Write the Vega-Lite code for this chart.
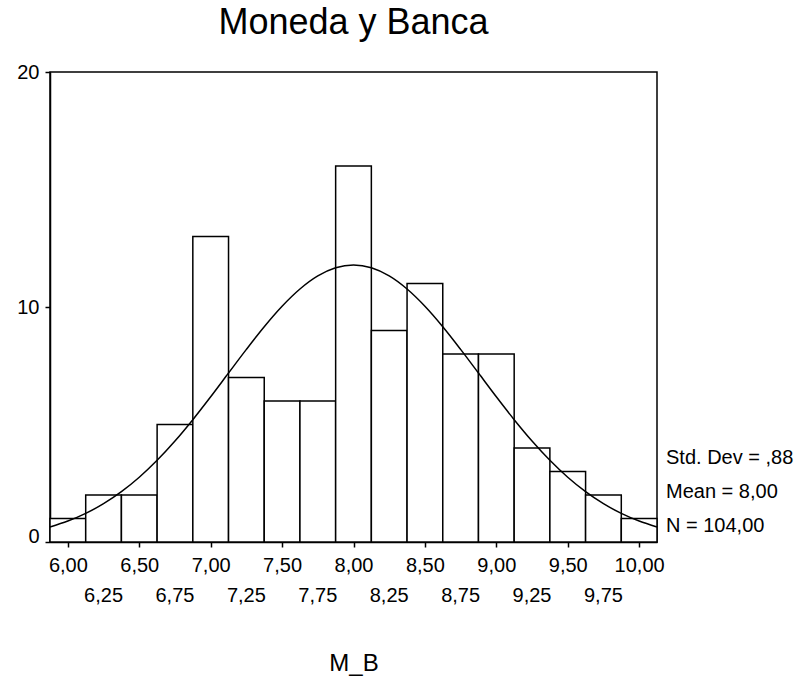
{
  "$schema": "https://vega.github.io/schema/vega-lite/v6.json",
  "autosize": "none",
  "width": 607,
  "height": 470,
  "padding": {"left": 50, "top": 72, "right": 144, "bottom": 137},
  "background": "white",
  "title": {
    "text": "Moneda y Banca",
    "fontSize": 36,
    "font": "Liberation Sans",
    "fontWeight": "normal",
    "color": "black",
    "anchor": "middle",
    "frame": "group",
    "offset": 20
  },
  "config": {
    "view": {"stroke": "black", "strokeWidth": 1.5},
    "axis": {
      "domainColor": "black",
      "domainWidth": 1.5,
      "tickColor": "black",
      "tickWidth": 1.5,
      "tickSize": 5,
      "labelColor": "black",
      "labelFont": "Liberation Sans",
      "labelFontSize": 20,
      "titleFont": "Liberation Sans",
      "titleColor": "black",
      "titleFontWeight": "normal",
      "grid": false
    }
  },
  "datasets": {
    "bins": [
      {"bin_start": 5.875, "bin_end": 6.125, "count": 1},
      {"bin_start": 6.125, "bin_end": 6.375, "count": 2},
      {"bin_start": 6.375, "bin_end": 6.625, "count": 2},
      {"bin_start": 6.625, "bin_end": 6.875, "count": 5},
      {"bin_start": 6.875, "bin_end": 7.125, "count": 13},
      {"bin_start": 7.125, "bin_end": 7.375, "count": 7},
      {"bin_start": 7.375, "bin_end": 7.625, "count": 6},
      {"bin_start": 7.625, "bin_end": 7.875, "count": 6},
      {"bin_start": 7.875, "bin_end": 8.125, "count": 16},
      {"bin_start": 8.125, "bin_end": 8.375, "count": 9},
      {"bin_start": 8.375, "bin_end": 8.625, "count": 11},
      {"bin_start": 8.625, "bin_end": 8.875, "count": 8},
      {"bin_start": 8.875, "bin_end": 9.125, "count": 8},
      {"bin_start": 9.125, "bin_end": 9.375, "count": 4},
      {"bin_start": 9.375, "bin_end": 9.625, "count": 3},
      {"bin_start": 9.625, "bin_end": 9.875, "count": 2},
      {"bin_start": 9.875, "bin_end": 10.125, "count": 1}
    ],
    "curve": [
      {"x": 5.875, "y": 0.6385},
      {"x": 6.0, "y": 0.8906},
      {"x": 6.125, "y": 1.2177},
      {"x": 6.25, "y": 1.6319},
      {"x": 6.375, "y": 2.1428},
      {"x": 6.5, "y": 2.7575},
      {"x": 6.625, "y": 3.4776},
      {"x": 6.75, "y": 4.2979},
      {"x": 6.875, "y": 5.206},
      {"x": 7.0, "y": 6.1799},
      {"x": 7.125, "y": 7.1901},
      {"x": 7.25, "y": 8.1966},
      {"x": 7.375, "y": 9.1597},
      {"x": 7.5, "y": 10.03},
      {"x": 7.625, "y": 10.764},
      {"x": 7.75, "y": 11.321},
      {"x": 7.875, "y": 11.668},
      {"x": 8.0, "y": 11.787},
      {"x": 8.125, "y": 11.668},
      {"x": 8.25, "y": 11.321},
      {"x": 8.375, "y": 10.764},
      {"x": 8.5, "y": 10.03},
      {"x": 8.625, "y": 9.1597},
      {"x": 8.75, "y": 8.1966},
      {"x": 8.875, "y": 7.1901},
      {"x": 9.0, "y": 6.1799},
      {"x": 9.125, "y": 5.206},
      {"x": 9.25, "y": 4.2979},
      {"x": 9.375, "y": 3.4776},
      {"x": 9.5, "y": 2.7575},
      {"x": 9.625, "y": 2.1428},
      {"x": 9.75, "y": 1.6319},
      {"x": 9.875, "y": 1.2177},
      {"x": 10.0, "y": 0.8906},
      {"x": 10.125, "y": 0.6385}
    ],
    "stats": [
      {"label": "Std. Dev = ,88", "pos": 3.58},
      {"label": "Mean = 8,00", "pos": 2.11},
      {"label": "N = 104,00", "pos": 0.69}
    ],
    "minor_labels": [
      {"v": 6.25, "label": "6,25"},
      {"v": 6.75, "label": "6,75"},
      {"v": 7.25, "label": "7,25"},
      {"v": 7.75, "label": "7,75"},
      {"v": 8.25, "label": "8,25"},
      {"v": 8.75, "label": "8,75"},
      {"v": 9.25, "label": "9,25"},
      {"v": 9.75, "label": "9,75"}
    ]
  },
  "layer": [
    {
      "data": {"name": "bins"},
      "mark": {"type": "bar", "fill": "white", "stroke": "black", "strokeWidth": 1.5},
      "encoding": {
        "x": {
          "field": "bin_start",
          "type": "quantitative",
          "scale": {"domain": [5.875, 10.125], "nice": false, "zero": false},
          "axis": {
            "title": "M_B",
            "titleFontSize": 24,
            "titlePadding": 76,
            "values": [6, 6.25, 6.5, 6.75, 7, 7.25, 7.5, 7.75, 8, 8.25, 8.5, 8.75, 9, 9.25, 9.5, 9.75, 10],
            "labelExpr": "round(datum.value*100) % 50 != 0 ? '' : replace(format(datum.value, '.2f'), '.', ',')",
            "labelOverlap": false,
            "labelBound": false,
            "labelFlush": false,
            "labelPadding": 8
          }
        },
        "x2": {"field": "bin_end"},
        "y": {
          "field": "count",
          "type": "quantitative",
          "scale": {"domain": [0, 20], "nice": false},
          "axis": {
            "title": null,
            "values": [0, 10, 20],
            "labelPadding": 6,
            "labelFlush": false,
            "labelBaseline": {"condition": {"test": "datum.value === 0", "value": "alphabetic"}, "value": "middle"}
          }
        },
        "y2": {"datum": 0}
      }
    },
    {
      "data": {"name": "curve"},
      "mark": {"type": "line", "stroke": "black", "strokeWidth": 1.5, "interpolate": "monotone"},
      "encoding": {
        "x": {"field": "x", "type": "quantitative"},
        "y": {"field": "y", "type": "quantitative"}
      }
    },
    {
      "data": {"name": "minor_labels"},
      "mark": {"type": "text", "align": "center", "baseline": "top", "dy": 44, "fontSize": 20, "font": "Liberation Sans", "color": "black"},
      "encoding": {
        "x": {"field": "v", "type": "quantitative"},
        "y": {"datum": 0, "type": "quantitative"},
        "text": {"field": "label"}
      }
    },
    {
      "data": {"name": "stats"},
      "mark": {"type": "text", "align": "left", "baseline": "middle", "dx": 9, "fontSize": 20, "font": "Liberation Sans", "color": "black"},
      "encoding": {
        "x": {"datum": 10.125, "type": "quantitative"},
        "y": {"field": "pos", "type": "quantitative"},
        "text": {"field": "label"}
      }
    }
  ]
}
